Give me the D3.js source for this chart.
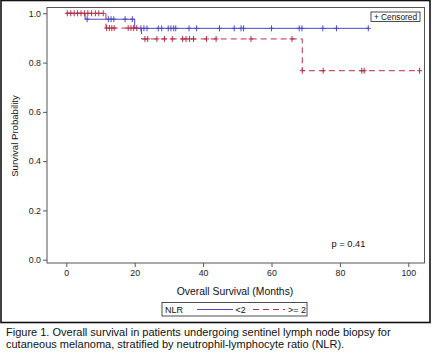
<!DOCTYPE html>
<html><head><meta charset="utf-8">
<script src="https://cdn.jsdelivr.net/npm/d3@7"></script>
<style>body{margin:0;background:#fff;} text{font-family:"Liberation Sans",Arial,sans-serif;}</style>
</head><body><svg id="c" width="432" height="358"></svg>
<script>
// ---- data ----
const groups = ["<2", ">= 2"];
const lowStepTimes = [0, 5.5, 20];
const lowSurvival = [1.0, 0.976, 0.939];
const lowEnd = 88.3;
const lowCensor = [6.1, 12.3, 13.1, 13.9, 17.2, 19.3, 21.8, 22.7, 23.6, 26.9, 27.9, 29.8, 30.6, 31.4, 32.0, 35.9, 38.1, 44.8, 49.1, 51.1, 51.8, 60.0, 68.1, 68.9, 75.0, 79.0, 88.3];
const highStepTimes = [0, 11.6, 22, 69];
const highSurvival = [1.0, 0.94, 0.896, 0.767];
const highEnd = 103.3;
const highCensor = [0.3, 1.3, 2.3, 3.3, 4.3, 5.3, 6.3, 7.4, 8.5, 9.5, 10.8, 11.8, 12.6, 13.3, 14.0, 18.1, 18.9, 19.7, 20.6, 23.0, 23.8, 26.5, 28.7, 31.0, 34.0, 35.0, 36.0, 37.2, 41.0, 43.8, 54.0, 66.0, 69.0, 75.1, 86.4, 87.1, 103.3];
const xTicks = [0, 20, 40, 60, 80, 100];
const yTicks = [0.0, 0.2, 0.4, 0.6, 0.8, 1.0];
const pText = "p = 0.41";
const caption = ["Figure 1. Overall survival in patients undergoing sentinel lymph node biopsy for",
                 "cutaneous melanoma, stratified by neutrophil-lymphocyte ratio (NLR)."];

const blue = "#4a4ac4", red = "#b5304b";
const svg = d3.select("#c");

// outer frame
svg.append("rect").attr("x",1).attr("y",0.5).attr("width",429).attr("height",322)
  .attr("fill","none").attr("stroke","#111").attr("stroke-width",1.6);

const x = d3.scaleLinear().domain([0,100]).range([66.3,408.3]);
const y = d3.scaleLinear().domain([0,1]).range([259.7,13.3]);
const box = {x0:47, x1:424.5, y0:7.5, y1:263};

svg.append("rect").attr("x",box.x0).attr("y",box.y0).attr("width",box.x1-box.x0).attr("height",box.y1-box.y0)
  .attr("fill","none").attr("stroke","#555").attr("stroke-width",1);

const yAxis = svg.append("g").attr("transform",`translate(${box.x0},0)`)
  .call(d3.axisLeft(y).tickValues(yTicks).tickFormat(d3.format(".1f")).tickSize(4).tickPadding(2));
const xAxis = svg.append("g").attr("transform",`translate(0,${box.y1})`)
  .call(d3.axisBottom(x).tickValues(xTicks).tickSize(4).tickPadding(3));
[yAxis,xAxis].forEach(a=>{
  a.select(".domain").remove();
  a.selectAll("line").attr("stroke","#555");
  a.selectAll("text").attr("fill","#222").style("font-size","8.8px").style("font-family","Liberation Sans, Arial, sans-serif");
});

svg.append("text").attr("x",235).attr("y",294.5).attr("text-anchor","middle")
  .style("font-size","10.4px").attr("fill","#111").text("Overall Survival (Months)");
svg.append("text").attr("transform","translate(17.5,136) rotate(-90)").attr("text-anchor","middle")
  .style("font-size","9.6px").attr("fill","#111").text("Survival Probability");

function stepPts(times, surv, end){
  const pts = times.map((t,i)=>[t,surv[i]]);
  pts.push([end, surv[surv.length-1]]);
  return pts;
}
function survAt(times, surv, t){
  let s = surv[0];
  for(let i=0;i<times.length;i++){ if(t>=times[i]) s = surv[i]; }
  return s;
}
const line = d3.line().x(d=>x(d[0])).y(d=>y(d[1])).curve(d3.curveStepAfter);

const series = [
  {name:groups[0], times:lowStepTimes, surv:lowSurvival, end:lowEnd, cens:lowCensor, color:blue, dash:null},
  {name:groups[1], times:highStepTimes, surv:highSurvival, end:highEnd, cens:highCensor, color:red, dash:"6,4"}
];
series.forEach(s=>{
  svg.append("path").datum(stepPts(s.times,s.surv,s.end)).attr("d",line)
    .attr("fill","none").attr("stroke",s.color).attr("stroke-width",1)
    .attr("stroke-dasharray",s.dash);
  const g = svg.append("g");
  s.cens.forEach(t=>{
    const cx = x(t), cy = y(survAt(s.times,s.surv,t));
    g.append("path").attr("d",`M${cx-2.5},${cy}H${cx+2.5}M${cx},${cy-3}V${cy+3}`)
      .attr("stroke",s.color).attr("stroke-width",1).attr("fill","none");
  });
});

// censored legend
svg.append("rect").attr("x",371).attr("y",12).attr("width",49).attr("height",9.5)
  .attr("fill","#fff").attr("stroke","#222").attr("stroke-width",0.8);
svg.append("text").attr("x",395.5).attr("y",19.6).attr("text-anchor","middle")
  .style("font-size","8.3px").attr("fill","#111").text("+ Censored");

svg.append("text").attr("x",348.5).attr("y",246.5).attr("text-anchor","middle")
  .style("font-size","9.3px").attr("fill","#111").text(pText);

// bottom legend
svg.append("rect").attr("x",162).attr("y",302.5).attr("width",145).attr("height",13.5)
  .attr("fill","#fff").attr("stroke","#222").attr("stroke-width",0.8);
svg.append("text").attr("x",165).attr("y",312.8).style("font-size","9px").attr("fill","#111").text("NLR");
svg.append("line").attr("x1",197).attr("x2",233).attr("y1",309.5).attr("y2",309.5).attr("stroke",blue);
svg.append("text").attr("x",235.5).attr("y",312.8).style("font-size","9px").attr("fill","#111").text(groups[0]);
svg.append("line").attr("x1",253).attr("x2",285).attr("y1",309.5).attr("y2",309.5).attr("stroke",red).attr("stroke-dasharray","6,4");
svg.append("text").attr("x",288).attr("y",312.8).style("font-size","9px").attr("fill","#111").text(groups[1]);

caption.forEach((c,i)=>{
  svg.append("text").attr("x",6).attr("y",336+i*12).style("font-size","11px").attr("fill","#111").text(c);
});
</script></body></html>
